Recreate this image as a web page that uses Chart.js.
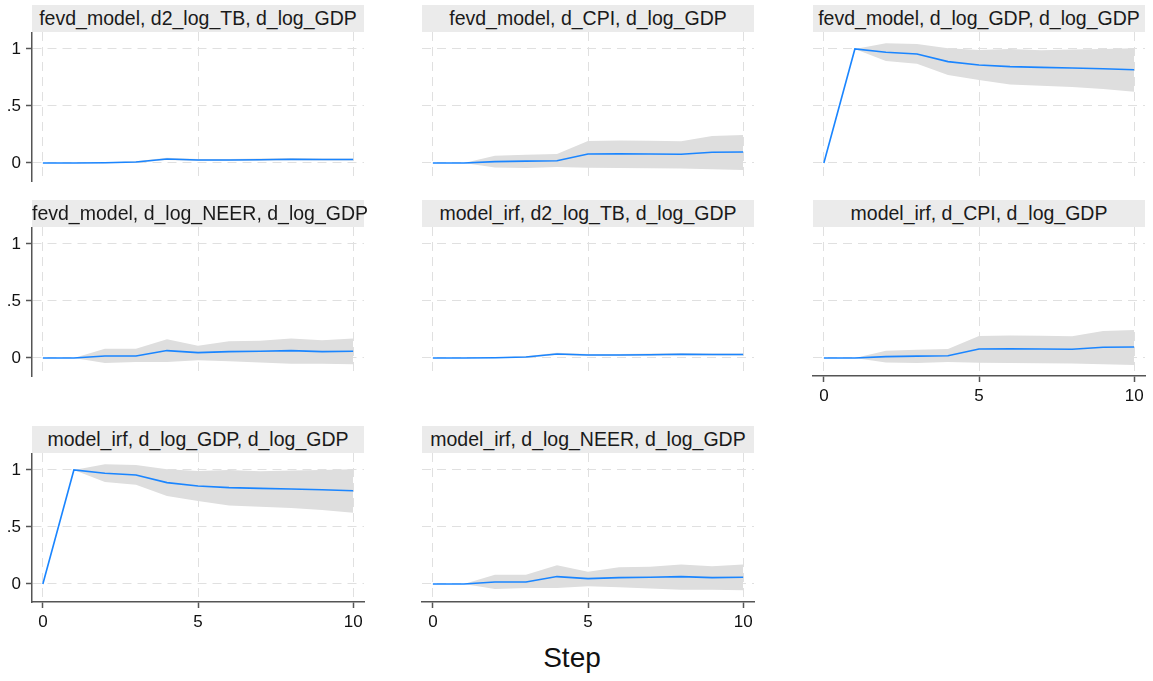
<!DOCTYPE html>
<html>
<head>
<meta charset="utf-8">
<script src="https://cdn.jsdelivr.net/npm/chart.js@4.4.1/dist/chart.umd.min.js"></script>
<style>
body{margin:0;background:#fff;font-family:"Liberation Sans",Arial,sans-serif}
#wrap{position:relative;width:1153px;height:681px;overflow:hidden;background:#fff}
#wrap canvas{position:absolute}
.ttl{position:absolute;height:27px;line-height:27px;background:#ebebeb;color:#1a1a1a;font-size:19.5px;text-align:center;white-space:nowrap}
#step{position:absolute;left:472px;width:200px;top:642px;line-height:32px;text-align:center;font-size:28px;color:#111}
</style>
</head>
<body>
<div id="wrap"><div id="step">Step</div></div>
<script>
// ===================== DADOS =====================
const steps=[0,1,2,3,4,5,6,7,8,9,10];
const xTicks=[0,5,10];
const yTicks=[0,0.5,1];
const yTickLabels=['0','.5','1'];

// choque d2_log_TB
const tbMid=[0,0,0.002,0.008,0.035,0.026,0.026,0.029,0.033,0.030,0.030];
const tbLo =[0,0,-0.002,0.002,0.026,0.018,0.018,0.020,0.024,0.021,0.021];
const tbHi =[0,0,0.006,0.015,0.045,0.035,0.035,0.039,0.043,0.040,0.040];
// choque d_CPI
const cpiMid=[0,0,0.012,0.016,0.020,0.079,0.080,0.079,0.076,0.094,0.096];
const cpiLo =[0,0,-0.040,-0.044,-0.035,-0.041,-0.044,-0.046,-0.049,-0.056,-0.061];
const cpiHi =[0,0,0.064,0.072,0.078,0.193,0.197,0.196,0.190,0.237,0.246];
// choque d_log_GDP
const gdpMid=[0,1,0.971,0.956,0.889,0.859,0.845,0.839,0.833,0.827,0.818];
const gdpLo =[0,1,0.894,0.871,0.771,0.727,0.689,0.677,0.666,0.648,0.625];
const gdpHi =[0,1,1.050,1.044,1.006,0.991,1.000,0.990,0.996,1.000,1.006];
// choque d_log_NEER
const neerMid=[0,0,0.018,0.018,0.065,0.047,0.056,0.059,0.065,0.056,0.059];
const neerLo =[0,0,-0.044,-0.035,-0.035,-0.020,-0.029,-0.040,-0.050,-0.050,-0.056];
const neerHi =[0,0,0.082,0.082,0.164,0.108,0.147,0.152,0.170,0.155,0.170];

const titles=[
  'fevd_model, d2_log_TB, d_log_GDP','fevd_model, d_CPI, d_log_GDP','fevd_model, d_log_GDP, d_log_GDP',
  'fevd_model, d_log_NEER, d_log_GDP','model_irf, d2_log_TB, d_log_GDP','model_irf, d_CPI, d_log_GDP',
  'model_irf, d_log_GDP, d_log_GDP','model_irf, d_log_NEER, d_log_GDP'
];
const impulses=['tb','cpi','gdp','neer','tb','cpi','gdp','neer'];
const series={tb:[tbMid,tbLo,tbHi],cpi:[cpiMid,cpiLo,cpiHi],gdp:[gdpMid,gdpLo,gdpHi],neer:[neerMid,neerLo,neerHi]};

// ===================== LAYOUT =====================
const COL_X=[32,422,813], ROW_Y=[32,227,453];
const PW=332, PH=149, PADL=32, PADB=40, PADR=16;
const lastRow=[2,2,1];   // última linha ocupada em cada coluna (recebe eixo x)
const FONT='"Liberation Sans", Arial, sans-serif';
const AXIS='#555', GRID='#e0e0e0', LINE='#1a85ff', BAND='#dedede';

const wrap=document.getElementById('wrap');
const pts=arr=>steps.map((s,i)=>({x:s,y:arr[i]}));

// tamanho fixo das escalas, sem a folga que o Chart.js reserva para os rótulos
const fixX=s=>{s.height=PADB;s.paddingLeft=0;s.paddingRight=0};
const fixY=s=>{s.width=PADL;s.paddingTop=0;s.paddingBottom=0};

function drawPanel(ti){
  const row=Math.floor(ti/3), col=ti%3;
  const left=COL_X[col], top=ROW_Y[row];
  const showY=col===0, showX=row===lastRow[col];
  const [mid,lo,hi]=series[impulses[ti]];

  const t=document.createElement('div');
  t.className='ttl';
  t.style.left=left+'px';t.style.top=(top-27)+'px';t.style.width=PW+'px';
  t.textContent=titles[ti];
  wrap.appendChild(t);

  const cv=document.createElement('canvas');
  cv.width=PADL+PW+PADR;cv.height=PH+PADB;
  cv.style.left=(left-PADL)+'px';cv.style.top=top+'px';
  wrap.appendChild(cv);

  const tickFont={family:FONT,size:17};
  new Chart(cv.getContext('2d'),{type:'line',
    data:{datasets:[
      {data:pts(mid),borderColor:LINE,borderWidth:1.6,pointRadius:0,fill:false,tension:0},
      {data:pts(hi),borderColor:'transparent',borderWidth:0,pointRadius:0,backgroundColor:BAND,fill:'+1'},
      {data:pts(lo),borderColor:'transparent',borderWidth:0,pointRadius:0,fill:false}
    ]},
    options:{responsive:false,animation:false,devicePixelRatio:1,
      layout:{padding:{left:0,right:PADR,top:0,bottom:0}},
      plugins:{legend:{display:false},tooltip:{enabled:false}},
      scales:{
        x:{type:'linear',min:-0.35,max:10.35,
          afterBuildTicks:s=>{s.ticks=xTicks.map(v=>({value:v}))},
          afterFit:fixX,
          grid:{color:GRID,lineWidth:1,drawTicks:showX,tickLength:6,tickColor:AXIS,tickWidth:1.5,tickBorderDash:[]},
          border:{display:showX,color:AXIS,width:1.5,dash:[9,6]},
          ticks:{display:showX,padding:4,color:'#111',font:tickFont,maxRotation:0,callback:v=>String(v)}},
        y:{min:-0.158,max:1.149,
          afterBuildTicks:s=>{s.ticks=yTicks.map(v=>({value:v}))},
          afterFit:fixY,
          grid:{color:GRID,lineWidth:1,drawTicks:showY,tickLength:6,tickColor:AXIS,tickWidth:1.5,tickBorderDash:[]},
          border:{display:showY,color:AXIS,width:1.5,dash:[9,6]},
          ticks:{display:showY,padding:5,color:'#111',font:tickFont,callback:(v,i)=>yTickLabels[i]}}
      }}
  });
}

titles.forEach((_,ti)=>drawPanel(ti));
</script>
</body>
</html>
